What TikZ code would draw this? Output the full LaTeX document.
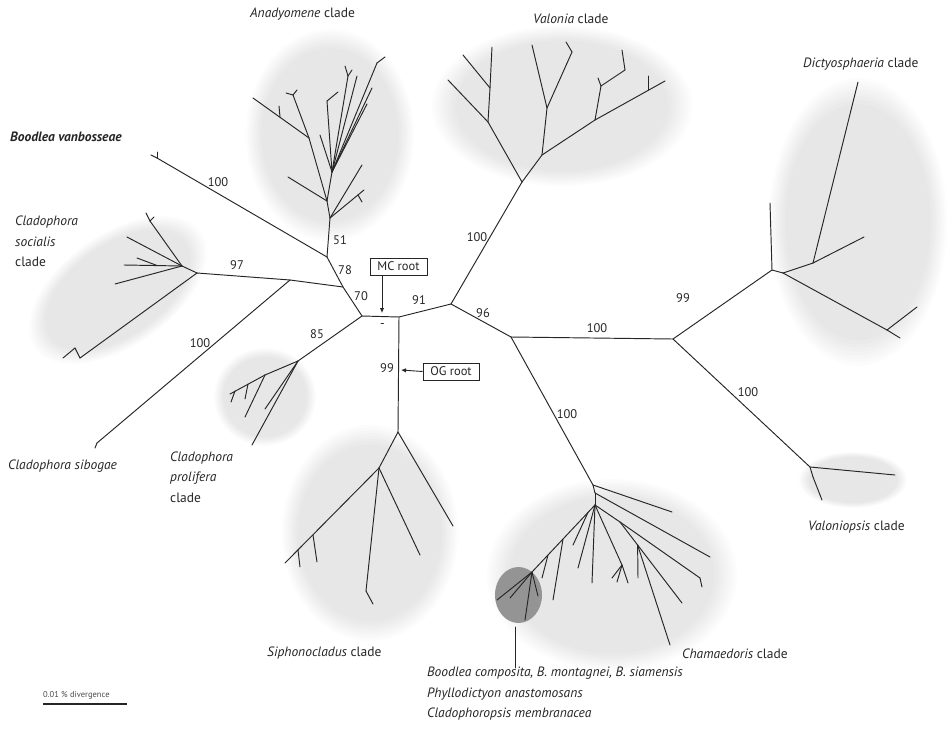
\documentclass[tikz,border=0pt]{standalone}
\usepackage{fontspec}
\setmainfont{PT Sans}
\usetikzlibrary{arrows.meta}
\newcommand\myblob[5]{%
  \foreach \s in {1,0.975,0.95,0.925,0.90,0.875,0.85,0.82}{%
    \fill[black,opacity=0.0125,rotate around={#5:(#1,#2)}] (#1,#2) ellipse [x radius=\s*#3, y radius=\s*#4];
  }}
\begin{document}
\begin{tikzpicture}[x=1pt,y=-1pt,
  br/.style={draw=black!85,line width=0.95pt,line cap=round,line join=round},
  lab/.style={font=\fontsize{13.5}{16}\selectfont,inner sep=0pt,anchor=west,text=black!85},
  num/.style={font=\fontsize{12.5}{14}\selectfont,inner sep=0pt,text=black!85},
  rootbox/.style={draw=black!85,line width=0.8pt,font=\fontsize{12.5}{14}\selectfont,inner sep=1pt,minimum height=17pt,text=black!85},
  arr/.style={draw=black!85,line width=0.9pt,-{Latex[length=5pt,width=4.5pt]}}]
\useasboundingbox (0,0) rectangle (948,734);
\fill[white] (0,0) rectangle (948,734);
% grey clade backgrounds
\myblob{330}{135}{84}{106}{0}
\myblob{562}{106}{130}{80}{0}
\myblob{858}{222}{89}{144}{0}
\myblob{118}{290}{101}{56}{35}
\myblob{265}{397}{51}{49}{0}
\myblob{370}{533}{88}{108}{0}
\myblob{612}{575}{125}{96}{0}
\myblob{853}{480}{54}{28}{0}
\fill[black!42] (518.5,595) ellipse [x radius=23.5, y radius=28];
% coordinates
\foreach \n/\x/\y in {c1/362/316,c2/399/317,c3/451/304,c4/511/337,c5/343/287,c6/327/257,c7/290/280,
 a1/330/218,a2/327/201,a3/332/172,ar1/362/165,ar2m/358/195,ar2/364/190,ar2t/362/202,
 al1/288/177,a4/309/138,al2/293/95,al2a/286/93,al2b/297/90,al3/253/98,al3m/280/117,al3t/279/106,
 al4/320/135,a5/327/101,a5t/338/92,a6/348/76,a6a/345/66,a6b/352/70,a8/357/76,a7/377/63,a7t/385/57,a9/372/88,a10/367/104,
 bv/157/158,bva/151/155,bvb/157/152,
 so1/197/273,so2/182/266,so3/150/221,so3a/146/213,so3b/154/217,so4/127/237,so5/124/265,so5m/157/265.5,so5t/137/258,so6/115/284,
 soz1/80/358,soz2/75/348,soz3/63/358,
 sb/97/443,sbt/95/448,
 p0/298/361,p1/265/375,p2/230/394,p2ma/248/384,p2ta/245/399,p2mb/235/391,p2tb/231/402,p3/245/417,p4/265/409,p5/252/445,
 s0/398/432,s0r/453/526,s1/379/468,s1r/420/555,s2/366/591,s2t/373/604,s1l/285/563,s3/313/535,s3t/317/562,s4/298/550,s4t/300/567,
 v0/522/182,v1/488/122,v1l/448/80,v2/490/88,v2a/492/47,v2b/463/55,v3/542/155,v4/547/108,v4a/532/45,v5/572/52,v5t/566/42,
 v6/595/120,v7/601/86,v7t/598/78,v8/625/70,v8t/622/50,v9/665/81,v9m/648/90,v9t/648/76,
 r0/673/339,d0/772/270,d0t/770/203,d1/783/273,d2/813/263,d2a/858/82,d2b/864/237,d3/887/330,d3a/900/338,d3b/917/307,
 vp0/810/467,vp1/895/475,vp2/813/477,vp3/822/500,
 ch0/593/485,ch0a/672/512,ch1/595/493,ch1a/710/557,ch2/595/505,ch3/620/522,ch4/700/578,ch4t/702/587,ch3b/682/603,
 ch5/637.6/545,ch5a/638/578,ch5b/670/645,ch7/622/565,ch7a/628/583,ch7b/612/578,ch7c/617/582,ch8/592/583,ch9/578/568,
 ch10m/588/512.4,ch10/573/545,cd/532/572,cdma/563/539,cdta/553/600,cdmb/548/555,cdtb/542/578,
 cda/497/600,cdb/510/598,cdc/525/620,cdd/538/596,cv1/515/627,cv2/515/668,
 mcx/382/313,ogx/401/370,mk1/381/323,mk2/383.5/323,sbl/43/704,sbr/127/704}
 {\coordinate (\n) at (\x,\y);}
% branches
\foreach \a/\b in {c1/c2,c2/c3,c3/c4,c1/c5,c5/c6,c5/c7,c7/so1,c6/bv,bv/bva,bv/bvb,c7/sb,sb/sbt,c1/p0,c2/s0,c3/v0,c4/r0,c4/ch0,
 c6/a1,a1/a2,a2/a3,a1/ar1,a1/ar2,ar2m/ar2t,a2/al1,a2/a4,a4/al2,al2/al2a,al2/al2b,a4/al3,al3m/al3t,a3/al4,a3/a5,a5/a5t,
 a3/a6,a6/a6a,a6/a6b,a3/a8,a3/a7,a7/a7t,a3/a9,a3/a10,
 so1/so2,so2/so3,so3/so3a,so3/so3b,so2/so4,so2/so5,so5m/so5t,so2/so6,so1/soz1,soz1/soz2,soz2/soz3,
 p0/p1,p1/p2,p2ma/p2ta,p2mb/p2tb,p1/p3,p0/p4,p0/p5,
 s0/s0r,s0/s1,s1/s1r,s1/s2,s2/s2t,s1/s1l,s3/s3t,s4/s4t,
 v0/v1,v1/v1l,v1/v2,v2/v2a,v2/v2b,v0/v3,v3/v4,v4/v4a,v4/v5,v5/v5t,v3/v6,v6/v7,v7/v7t,v7/v8,v8/v8t,v6/v9,v9m/v9t,
 r0/d0,d0/d0t,d0/d1,d1/d2,d2/d2a,d2/d2b,d1/d3,d3/d3a,d3/d3b,
 r0/vp0,vp0/vp1,vp0/vp2,vp2/vp3,
 ch0/ch0a,ch0/ch1,ch1/ch1a,ch1/ch2,ch2/ch3,ch3/ch4,ch4/ch4t,ch3/ch3b,ch5/ch5a,ch5/ch5b,ch2/ch7,ch7/ch7a,ch7/ch7b,ch7/ch7c,
 ch2/ch8,ch2/ch9,ch10m/ch10,ch2/cd,cdma/cdta,cdmb/cdtb,cd/cda,cd/cdb,cd/cdc,cd/cdd,cv1/cv2}
 {\draw[br] (\a) -- (\b);}
\draw[br,line width=0.7pt] (mk1) -- (mk2);
% support values
\node[num] (n51) at (340,240) {51};
\node[num] (n78) at (345,270) {78};
\node[num] (n70) at (361,296) {70};
\node[num] (n91) at (419,300) {91};
\node[num] (n96) at (483,313) {96};
\node[num] (n85) at (317,334) {85};
\node[num] (n99) at (387,368) {99};
\node[num] (nbv) at (218,182) {100};
\node[num] (n97) at (237,265) {97};
\node[num] (nsb) at (200,343) {100};
\node[num] (nva) at (477,237) {100};
\node[num] (nri) at (597,328) {100};
\node[num] (ndi) at (683,298) {99};
\node[num] (nvp) at (748,392) {100};
\node[num] (nch) at (567,414) {100};
% roots
\node[rootbox,minimum width=57pt] (mc) at (398.5,266.5) {MC root};
\node[rootbox,minimum width=56pt] (og) at (451,371.5) {OG root};
\draw[arr] (mc.south -| mcx) -- (mcx);
\draw[arr] (og.west) -- (ogx);
% clade labels
\node[lab] (lAna) at (250,14) {\textit{Anadyomene} clade};
\node[lab] (lVal) at (533,19) {\textit{Valonia} clade};
\node[lab] (lDic) at (803,64) {\textit{Dictyosphaeria} clade};
\node[lab,font=\fontsize{13.5}{16}\selectfont\bfseries\itshape] (lBoo) at (10,137) {Boodlea vanbosseae};
\node[lab] (lCs1) at (15,222) {\textit{Cladophora}};
\node[lab] (lCs2) at (15,242) {\textit{socialis}};
\node[lab] (lCs3) at (15,262) {clade};
\node[lab] (lSib) at (8,466) {\textit{Cladophora sibogae}};
\node[lab] (lPr1) at (170,458) {\textit{Cladophora}};
\node[lab] (lPr2) at (170,478) {\textit{prolifera}};
\node[lab] (lPr3) at (170,498) {clade};
\node[lab] (lSip) at (267,653) {\textit{Siphonocladus} clade};
\node[lab] (lCha) at (682,654) {\textit{Chamaedoris} clade};
\node[lab] (lVp) at (808,527) {\textit{Valoniopsis} clade};
\node[lab] (lB1) at (427,673) {\textit{Boodlea composita, B. montagnei, B. siamensis}};
\node[lab] (lB2) at (427,694) {\textit{Phyllodictyon anastomosans}};
\node[lab] (lB3) at (427,714) {\textit{Cladophoropsis membranacea}};
% scale bar
\node[lab,font=\fontsize{8.5}{10}\selectfont,text=black!70] (scl) at (43,695) {0.01 \% divergence};
\draw[br,line width=1.3pt,line cap=butt] (sbl) -- (sbr);
\end{tikzpicture}
\end{document}
